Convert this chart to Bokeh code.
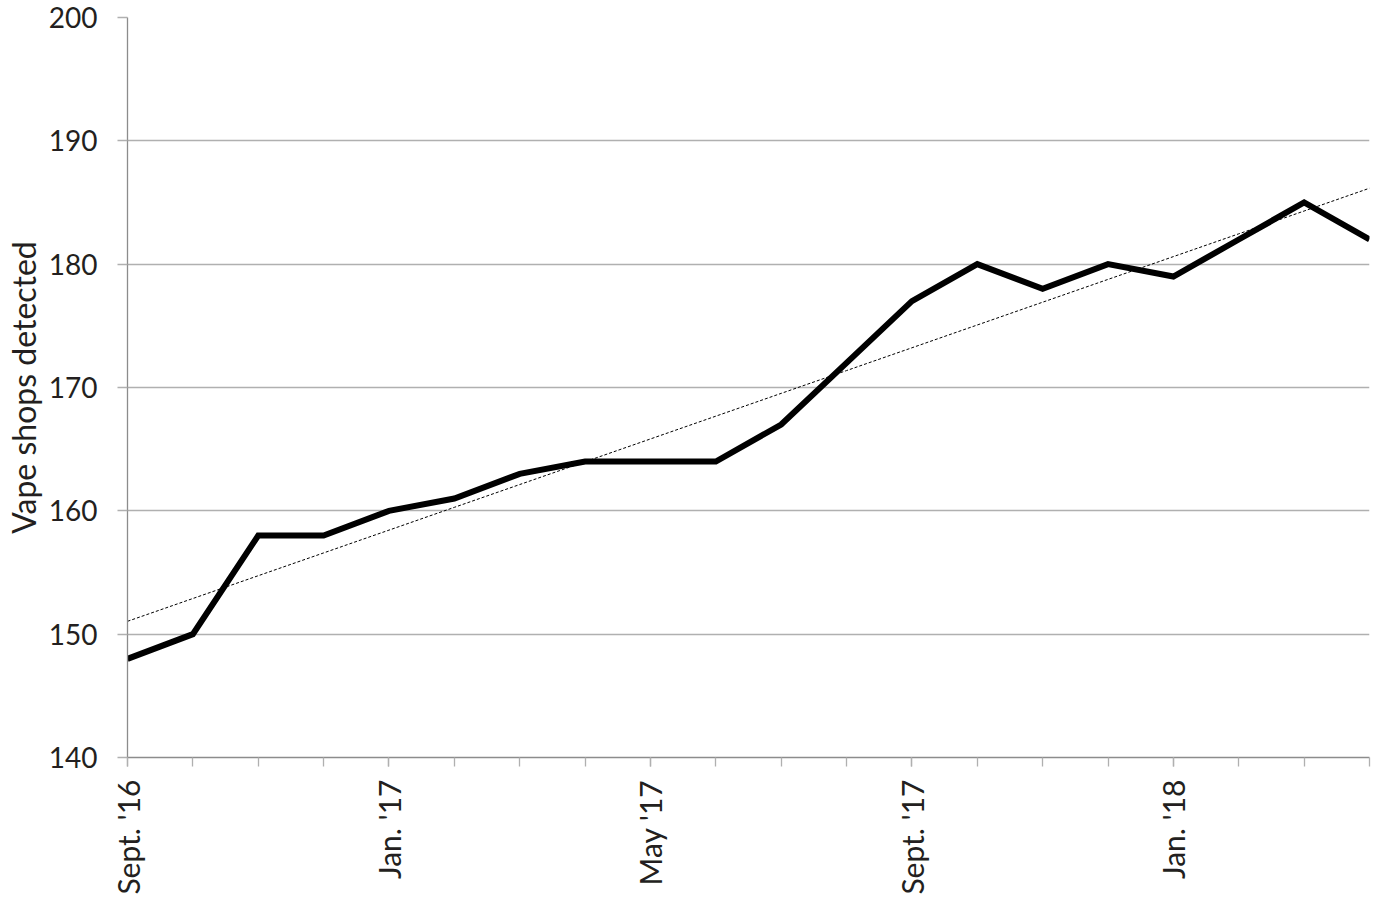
import math
import numpy as np
from bokeh.plotting import figure
from bokeh.models import Range1d, FixedTicker, ColumnDataSource
from bokeh.embed import file_html
from bokeh.resources import INLINE

# Data
months = list(range(20))  # Sept '16 .. Apr '18
shops = [148, 150, 158, 158, 160, 161, 163, 164, 164, 164,
         167, 172, 177, 180, 178, 180, 179, 182, 185, 182]
tick_positions = [0, 4, 8, 12, 16]
tick_labels = ["Sept. '16", "Jan. '17", "May '17", "Sept. '17", "Jan. '18"]
y_ticks = [140, 150, 160, 170, 180, 190, 200]

# Linear trend from data
coef = np.polyfit(months, shops, 1)
trend = list(np.polyval(coef, months))

FONT = "Lato"
TEXT = "#231f20"
GRID = "#b0b0b0"
AXIS = "#8c8c8c"

p = figure(frame_width=1242, frame_height=740,
           x_range=Range1d(0, 19), y_range=Range1d(140, 200),
           output_backend="svg", toolbar_location=None,
           min_border_left=121, min_border_top=17, min_border_right=4,
           min_border_bottom=10)
p.outline_line_color = None
p.background_fill_color = "white"
p.border_fill_color = "white"

src = ColumnDataSource(dict(x=months, y=shops, t=trend))
p.line("x", "t", source=src, line_color="black", line_width=1, line_dash="3 2")
p.line("x", "y", source=src, line_color="black", line_width=6, line_join="miter")

# grid
p.xgrid.grid_line_color = None
p.ygrid.grid_line_color = GRID
p.ygrid.grid_line_width = 1.3

# y axis
p.yaxis.ticker = FixedTicker(ticks=y_ticks)
p.yaxis.axis_line_color = AXIS
p.yaxis.axis_line_width = 1.3
p.yaxis.major_tick_line_color = GRID
p.yaxis.major_tick_line_width = 1.3
p.yaxis.major_tick_out = 10
p.yaxis.major_tick_in = 0
p.yaxis.minor_tick_line_color = None
p.yaxis.major_label_standoff = 20
p.yaxis.major_label_text_font = FONT
p.yaxis.major_label_text_font_size = "28px"
p.yaxis.major_label_text_color = TEXT
p.yaxis.axis_label = "Vape shops detected"
p.yaxis.axis_label_text_font = FONT
p.yaxis.axis_label_text_font_size = "32px"
p.yaxis.axis_label_text_font_style = "normal"
p.yaxis.axis_label_text_color = TEXT
p.yaxis.axis_label_standoff = 3

# x axis
p.xaxis.ticker = FixedTicker(ticks=tick_positions, minor_ticks=months)
p.xaxis.major_label_overrides = {k: v for k, v in zip(tick_positions, tick_labels)}
p.xaxis.axis_line_color = AXIS
p.xaxis.axis_line_width = 1.3
p.xaxis.major_tick_line_color = GRID
p.xaxis.major_tick_line_width = 1.3
p.xaxis.major_tick_out = 9
p.xaxis.major_tick_in = 0
p.xaxis.minor_tick_line_color = GRID
p.xaxis.minor_tick_line_width = 1.3
p.xaxis.minor_tick_out = 9
p.xaxis.minor_tick_in = 0
p.xaxis.major_label_orientation = math.pi / 2
p.xaxis.major_label_standoff = 13
p.xaxis.major_label_text_font = FONT
p.xaxis.major_label_text_font_size = "30px"
p.xaxis.major_label_text_color = TEXT

open("out.html", "w").write(file_html(p, INLINE))
